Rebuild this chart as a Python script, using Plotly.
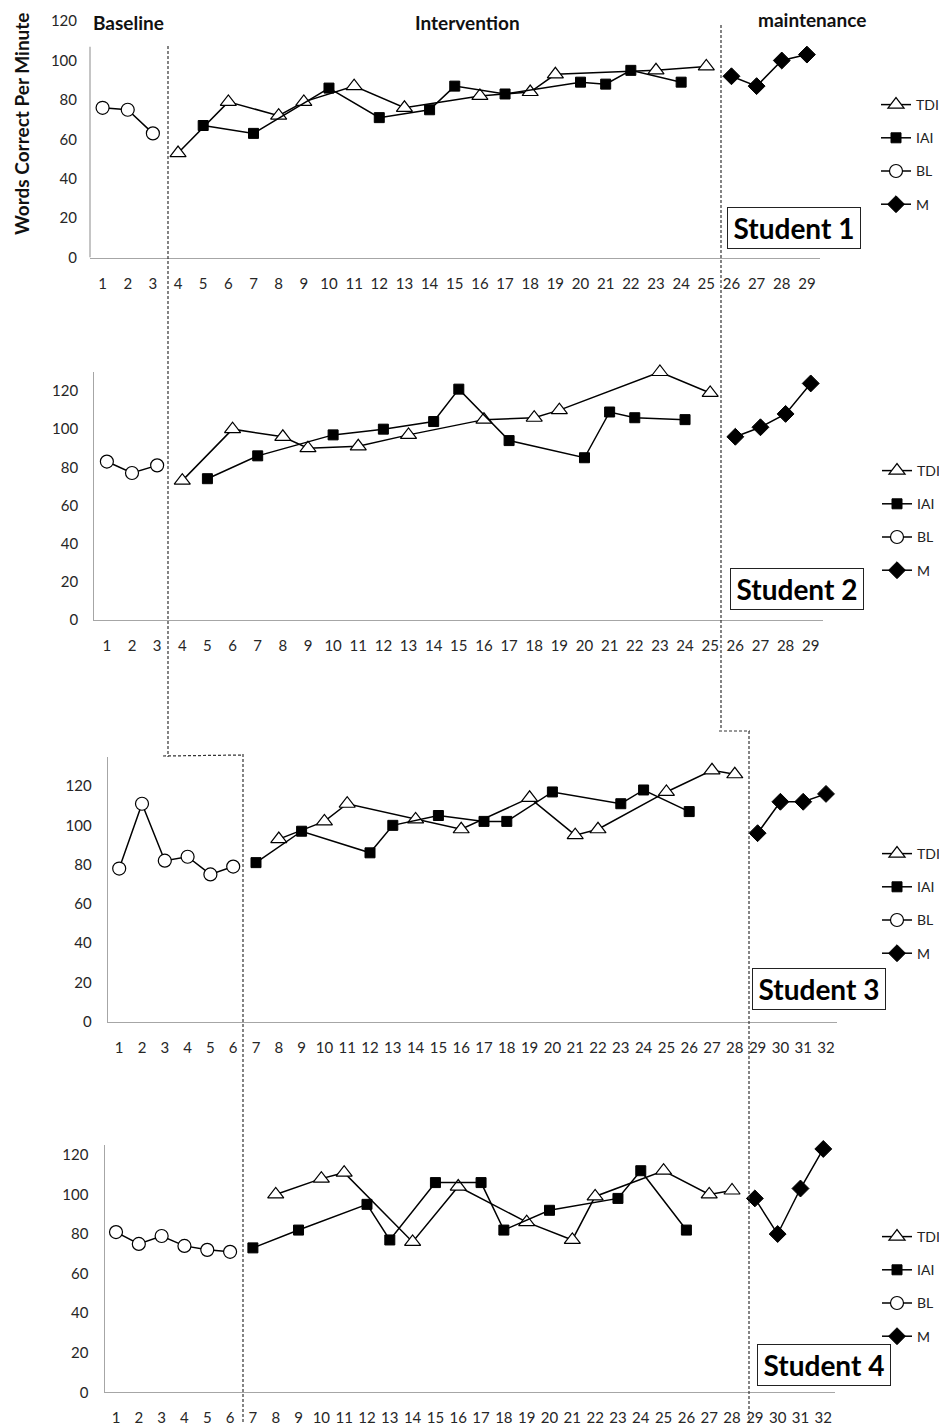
import plotly.graph_objects as go

# The page places the figure 8px from the top-left corner of the window,
# so the figure is sized to fill the rest of the 947x1427 window.
OFF = 8
W, H = 947 - OFF, 1427 - OFF

# ---------------- data ----------------
# Student 1
s1_bl_x = [1, 2, 3]
s1_bl_y = [76, 75, 63]
s1_tdi_x = [4, 6, 8, 9, 11, 13, 16, 18, 19, 23, 25]
s1_tdi_y = [53, 79, 72, 79, 87, 76, 82, 84, 93, 95, 97]
s1_iai_x = [5, 7, 10, 12, 14, 15, 17, 20, 21, 22, 24]
s1_iai_y = [67, 63, 86, 71, 75, 87, 83, 89, 88, 95, 89]
s1_m_x = [26, 27, 28, 29]
s1_m_y = [92, 87, 100, 103]

# Student 2
s2_bl_x = [1, 2, 3]
s2_bl_y = [83, 77, 81]
s2_tdi_x = [4, 6, 8, 9, 11, 13, 16, 18, 19, 23, 25]
s2_tdi_y = [73, 100, 96, 90, 91, 97, 105, 106, 110, 130, 119]
s2_iai_x = [5, 7, 10, 12, 14, 15, 17, 20, 21, 22, 24]
s2_iai_y = [74, 86, 97, 100, 104, 121, 94, 85, 109, 106, 105]
s2_m_x = [26, 27, 28, 29]
s2_m_y = [96, 101, 108, 124]

# Student 3
s3_bl_x = [1, 2, 3, 4, 5, 6]
s3_bl_y = [78, 111, 82, 84, 75, 79]
s3_tdi_x = [8, 10, 11, 14, 16, 19, 21, 22, 25, 27, 28]
s3_tdi_y = [93, 102, 111, 103, 98, 114, 95, 98, 117, 128, 126]
s3_iai_x = [7, 9, 12, 13, 15, 17, 18, 20, 23, 24, 26]
s3_iai_y = [81, 97, 86, 100, 105, 102, 102, 117, 111, 118, 107]
s3_m_x = [29, 30, 31, 32]
s3_m_y = [96, 112, 112, 116]

# Student 4
s4_bl_x = [1, 2, 3, 4, 5, 6]
s4_bl_y = [81, 75, 79, 74, 72, 71]
s4_tdi_x = [8, 10, 11, 14, 16, 19, 21, 22, 25, 27, 28]
s4_tdi_y = [100, 108, 111, 76, 104, 86, 77, 99, 112, 100, 102]
s4_iai_x = [7, 9, 12, 13, 15, 17, 18, 20, 23, 24, 26]
s4_iai_y = [73, 82, 95, 77, 106, 106, 82, 92, 98, 112, 82]
s4_m_x = [29, 30, 31, 32]
s4_m_y = [98, 80, 103, 123]

student_labels = ["Student 1", "Student 2", "Student 3", "Student 4"]
session_counts = [29, 29, 32, 32]
y_tops = [120, 130, 135, 125]
y_ticks = [0, 20, 40, 60, 80, 100, 120]
phase_labels = ["Baseline", "Intervention", "maintenance"]
y_title = "Words Correct Per Minute"

data = [
    (s1_tdi_x, s1_tdi_y, s1_iai_x, s1_iai_y, s1_bl_x, s1_bl_y, s1_m_x, s1_m_y),
    (s2_tdi_x, s2_tdi_y, s2_iai_x, s2_iai_y, s2_bl_x, s2_bl_y, s2_m_x, s2_m_y),
    (s3_tdi_x, s3_tdi_y, s3_iai_x, s3_iai_y, s3_bl_x, s3_bl_y, s3_m_x, s3_m_y),
    (s4_tdi_x, s4_tdi_y, s4_iai_x, s4_iai_y, s4_bl_x, s4_bl_y, s4_m_x, s4_m_y),
]

# ---------------- layout geometry (window pixels) ----------------
def px(x):
    return (x - OFF) / W

def py(y):
    return 1 - (y - OFF) / H

# (left, right, top, bottom) of each plot area in window pixels
areas = [
    (90.0, 819.5, 21.1, 257.5),
    (94.3, 823.3, 372.0, 619.7),
    (107.8, 837.4, 756.6, 1021.7),
    (104.6, 834.7, 1145.0, 1392.3),
]
legend_pos = [(876, 89), (877, 455), (877, 838), (877, 1221)]
box_pos = [(794, 228), (797, 589), (819, 989), (824, 1365)]

FONT = "Lato, 'Open Sans', sans-serif"
TICK_COLOR = "#262626"
AXIS_COLOR = "#a6a6a6"

fig = go.Figure()

series_style = [
    ("TDI", dict(symbol="triangle-up", size=14, color="white", line=dict(color="black", width=1.2))),
    ("IAI", dict(symbol="square", size=10, color="black", line=dict(color="black", width=1))),
    ("BL", dict(symbol="circle", size=13, color="white", line=dict(color="black", width=1.2))),
    ("M", dict(symbol="diamond", size=13, color="black", line=dict(color="black", width=1))),
]

layout = dict(
    width=W, height=H,
    margin=dict(l=0, r=0, t=0, b=0, autoexpand=False),
    paper_bgcolor="white", plot_bgcolor="white",
    font=dict(family=FONT, size=15, color=TICK_COLOR),
    shapes=[], annotations=[],
)

for i, d in enumerate(data):
    n = i + 1
    sfx = "" if n == 1 else str(n)
    xa, ya, leg = "x" + sfx, "y" + sfx, "legend" + sfx
    pairs = [(d[0], d[1]), (d[2], d[3]), (d[4], d[5]), (d[6], d[7])]
    for (name, mk), (xs, ys) in zip(series_style, pairs):
        fig.add_trace(go.Scatter(
            x=xs, y=ys, name=name, mode="lines+markers",
            line=dict(color="black", width=1.5),
            marker=mk, xaxis=xa, yaxis=ya, legend=leg,
            legendgroup=f"p{n}{name}", showlegend=True, cliponaxis=False,
        ))
    l, r, t, b = areas[i]
    layout["xaxis" + sfx] = dict(
        domain=[px(l), px(r)], range=[0.5, session_counts[i] + 0.5],
        anchor=ya, tickmode="linear", tick0=1, dtick=1,
        showline=True, linecolor=AXIS_COLOR, linewidth=1.3,
        showgrid=False, zeroline=False, ticks="", ticklabelstandoff=12,
        tickfont=dict(size=15, color=TICK_COLOR, family=FONT), fixedrange=True,
    )
    layout["yaxis" + sfx] = dict(
        domain=[py(b), py(t)], range=[0, y_tops[i]], anchor=xa,
        tickmode="array", tickvals=y_ticks,
        showline=(n != 1), linecolor=AXIS_COLOR, linewidth=1.3,
        showgrid=False, zeroline=False, ticks="", ticklabelstandoff=12,
        tickfont=dict(size=15, color=TICK_COLOR, family=FONT), fixedrange=True,
    )
    lx, ly = legend_pos[i]
    layout[leg] = dict(
        x=px(lx), y=py(ly), xanchor="left", yanchor="top",
        bgcolor="rgba(0,0,0,0)", borderwidth=0, tracegroupgap=12,
        font=dict(size=14, color="#222222", family=FONT),
        itemclick=False, itemdoubleclick=False,
    )
    bx, by = box_pos[i]
    layout["annotations"].append(dict(
        xref="paper", yref="paper", x=px(bx), y=py(by),
        xanchor="center", yanchor="middle", showarrow=False,
        text=f"<b>{student_labels[i]}</b>",
        font=dict(size=28, color="black", family=FONT),
        bordercolor="#222222", borderwidth=1, borderpad=3, bgcolor="white",
        width=126, height=34,
    ))

# y-axis line of panel 1 (shorter than range)
layout["shapes"].append(dict(
    type="line", xref="x domain", yref="y", x0=0, x1=0, y0=0, y1=107,
    line=dict(color=AXIS_COLOR, width=1.3),
))

# phase-change connectors (dotted step lines)
dash = dict(color="#333333", width=1.2, dash="3px,2px")
def seg(x0, y0, x1, y1):
    layout["shapes"].append(dict(type="line", xref="paper", yref="paper",
                                 x0=px(x0), y0=py(y0), x1=px(x1), y1=py(y1), line=dash))
seg(168, 46, 168, 757)
seg(163, 756, 243, 755)
seg(243, 754, 243, 1422)
seg(721, 25, 721, 729)
seg(719, 731, 750, 731)
seg(749, 731, 749, 1422)

# phase labels
for txt, x, y in zip(phase_labels, [128, 467, 812], [22, 22, 19]):
    layout["annotations"].append(dict(
        xref="paper", yref="paper", x=px(x), y=py(y), xanchor="center", yanchor="middle",
        showarrow=False, text=f"<b>{txt}</b>", font=dict(size=19, color="#111111", family=FONT),
    ))

layout["annotations"].append(dict(
    xref="paper", yref="paper", x=px(22), y=py(124), xanchor="center", yanchor="middle",
    showarrow=False, textangle=-90, text=f"<b>{y_title}</b>",
    font=dict(size=19, color="#111111", family=FONT),
))

fig.update_layout(**layout)
fig.write_html("out.html")
